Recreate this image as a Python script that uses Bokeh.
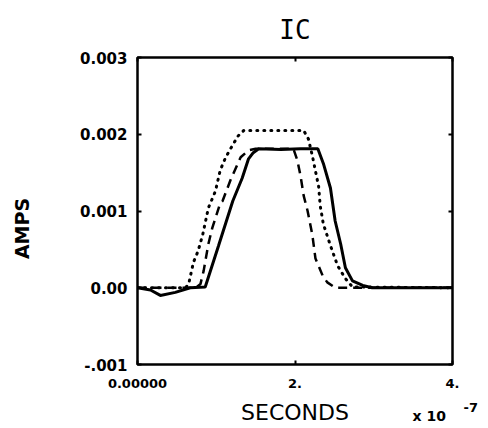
from bokeh.plotting import figure
from bokeh.models import FixedTicker, CustomJSTickFormatter, LinearAxis, Label, Range1d
from bokeh.embed import file_html
from bokeh.resources import INLINE

# time in units of 1e-7 seconds, current in amps
solid_t = [0.0, 0.165, 0.29, 0.48, 0.67, 0.86, 1.03, 1.21, 1.33, 1.41, 1.47, 1.54, 1.82, 2.07, 2.29,
           2.36, 2.45, 2.51, 2.58, 2.64, 2.73, 2.86, 2.98, 4.0]
solid_i = [0.0, -0.00003, -0.0001, -0.00006, 0.0, 0.00001, 0.00055, 0.00113, 0.00143, 0.00168, 0.00176,
           0.00181, 0.00180, 0.00181, 0.00181, 0.00162, 0.0013, 0.00087, 0.00057, 0.00026, 0.00009,
           0.00003, 0.0, 0.0]

dashed_t = [0.0, 0.74, 0.80, 0.84, 0.90, 0.95, 1.05, 1.08, 1.18, 1.31, 1.41, 1.50, 1.98, 2.03, 2.07,
            2.11, 2.16, 2.22, 2.26, 2.35, 2.41, 2.51, 4.0]
dashed_i = [0.0, 0.0, 0.00005, 0.00022, 0.00057, 0.00078, 0.0011, 0.00113, 0.0014, 0.0017, 0.00179,
            0.00181, 0.00181, 0.00166, 0.00146, 0.0012, 0.001, 0.00069, 0.00038, 0.00016, 0.00007,
            0.0, 0.0]

dotted_t = [0.0, 0.61, 0.65, 0.71, 0.77, 0.83, 0.90, 0.99, 1.05, 1.12, 1.22, 1.28, 1.35, 2.11, 2.17,
            2.22, 2.30, 2.32, 2.36, 2.45, 2.54, 2.64, 2.73, 4.0]
dotted_i = [0.0, 0.0, 0.00005, 0.00033, 0.00048, 0.0007, 0.00104, 0.00126, 0.00153, 0.0017, 0.00188,
            0.00198, 0.00205, 0.00205, 0.00194, 0.00172, 0.00132, 0.00107, 0.00083, 0.00055, 0.00029,
            0.00012, 0.00001, 0.0]

x_ticks = [0, 2, 4]
x_tick_labels = ["0.00000", "2.", "4."]
y_ticks = [-0.001, 0.0, 0.001, 0.002, 0.003]
y_tick_labels = ["-.001", "0.00", "0.001", "0.002", "0.003"]

p = figure(width=488, height=428, output_backend="svg", toolbar_location=None,
           x_range=Range1d(0, 4), y_range=Range1d(-0.001, 0.003),
           min_border_left=137, min_border_right=36, min_border_top=57, min_border_bottom=64)
p.xaxis.visible = False
p.yaxis.visible = False
p.grid.visible = False
p.outline_line_color = "black"
p.outline_line_width = 2.5
p.background_fill_color = "white"
p.border_fill_color = "white"

p.title.text = "IC"
p.title.align = "center"
p.title.text_font = "DejaVu Sans Mono"
p.title.text_font_style = "normal"
p.title.text_font_size = "26px"
p.title.text_color = "black"
p.title.standoff = 25

xmap = dict(zip([str(v) for v in x_ticks], x_tick_labels))
ymap = dict(zip([str(round(v * 1000)) for v in y_ticks], y_tick_labels))
xfmt = CustomJSTickFormatter(args=dict(m=xmap), code="return m[String(Math.round(tick))] || '';")
yfmt = CustomJSTickFormatter(args=dict(m=ymap), code="return m[String(Math.round(tick*1000))] || '';")
blank = CustomJSTickFormatter(code="return '';")


def style(ax):
    ax.axis_line_color = None
    ax.major_tick_in = 4
    ax.major_tick_out = 0
    ax.major_tick_line_width = 2
    ax.minor_tick_line_color = None
    ax.major_label_text_font = "DejaVu Sans"
    ax.major_label_text_font_style = "bold"
    ax.major_label_text_color = "black"


bx = LinearAxis(ticker=FixedTicker(ticks=x_ticks), formatter=xfmt)
style(bx)
bx.major_label_text_font_size = "13px"
bx.major_label_standoff = 14
bx.axis_label = "SECONDS"
bx.axis_label_text_font = "DejaVu Sans"
bx.axis_label_text_font_style = "normal"
bx.axis_label_text_font_size = "22px"
bx.axis_label_text_color = "black"
bx.axis_label_standoff = 9
p.add_layout(bx, "below")

ly = LinearAxis(ticker=FixedTicker(ticks=y_ticks), formatter=yfmt)
style(ly)
ly.major_label_text_font_size = "15px"
ly.major_label_standoff = 10
p.add_layout(ly, "left")

for loc, tk in (("above", x_ticks), ("right", y_ticks)):
    ax = LinearAxis(ticker=FixedTicker(ticks=tk), formatter=blank)
    style(ax)
    ax.major_label_text_font_size = "0px"
    ax.major_label_standoff = 0
    p.add_layout(ax, loc)

p.line(solid_t, solid_i, line_color="black", line_width=3)
p.line(dashed_t, dashed_i, line_color="black", line_width=2.5, line_dash="9 6")
p.line(dotted_t, dotted_i, line_color="black", line_width=3, line_dash="1 6", line_cap="round")

# labels placed in side panels (not clipped to the frame); px relative to their strip
p.add_layout(Label(x=-34, y=136, x_units="screen", y_units="screen", text="AMPS", angle=90,
                   angle_units="deg", text_align="center", text_baseline="middle", text_color="black",
                   text_font="DejaVu Sans", text_font_style="bold", text_font_size="19px"), "left")
p.add_layout(Label(x=390, y=-59, x_units="screen", y_units="screen", text="x 10", text_color="black",
                   text_font="DejaVu Sans", text_font_style="bold", text_font_size="14px"), "left")
p.add_layout(Label(x=11, y=-47, x_units="screen", y_units="screen", text="-7", text_color="black",
                   text_font="DejaVu Sans", text_font_style="bold", text_font_size="13px"), "right")

open("out.html", "w").write(file_html(p, INLINE))
